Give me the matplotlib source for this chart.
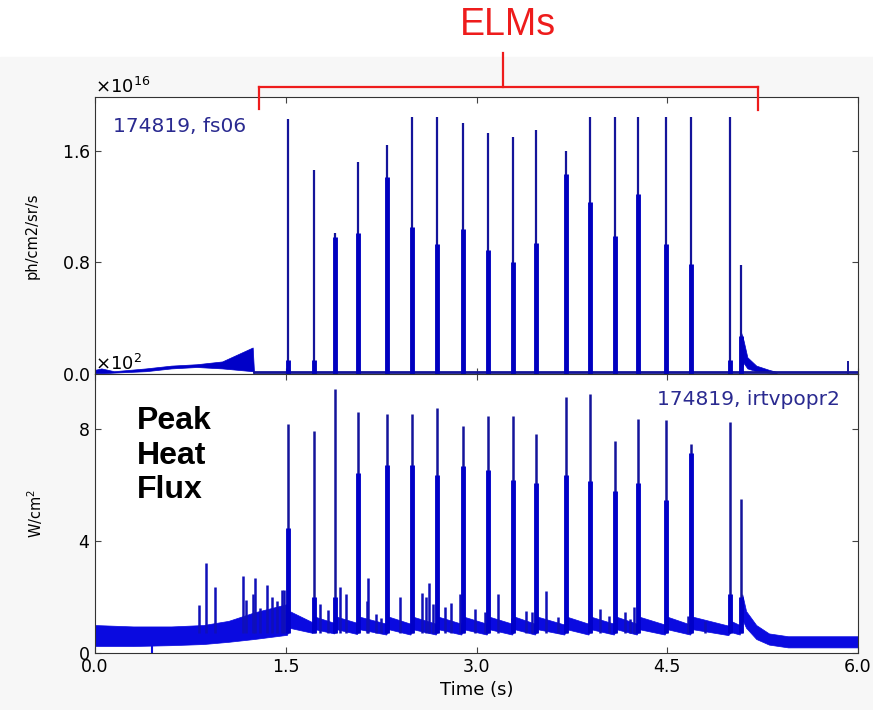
import matplotlib.pyplot as plt
from matplotlib.lines import Line2D
from matplotlib.patches import Rectangle

# ELM crash times (s) and the peak / shoulder heights in both channels
elm_t = [1.52, 1.72, 1.89, 2.07, 2.30, 2.49, 2.69, 2.89, 3.09, 3.29,
         3.47, 3.70, 3.89, 4.09, 4.27, 4.49, 4.69, 4.99, 5.08]
fs_peak = [1.83, 1.46, 1.01, 1.52, 1.64, 1.84, 1.84, 1.80, 1.73, 1.70,
           1.75, 1.60, 1.84, 1.84, 1.84, 1.84, 1.84, 1.84, 0.78]
fs_shoulder = [0.10, 0.10, 0.98, 1.01, 1.41, 1.05, 0.93, 1.04, 0.89, 0.80,
               0.94, 1.43, 1.23, 0.99, 1.29, 0.93, 0.79, 0.10, 0.27]
ir_peak = [8.18, 7.94, 9.44, 8.62, 8.54, 8.54, 8.78, 8.12, 8.48, 8.48,
           7.82, 9.14, 9.26, 7.58, 8.38, 8.34, 7.46, 8.26, 5.50]
ir_shoulder = [4.47, 2.00, 2.00, 6.44, 6.74, 6.74, 6.38, 6.68, 6.56, 6.20,
               6.08, 6.38, 6.14, 5.78, 6.08, 5.48, 7.16, 2.10, 2.00]

# filterscope baseline (x1e16): L-mode ramp before the first ELM
fs_pre_t = [0.00, 0.05, 0.15, 0.40, 0.60, 0.80, 1.00, 1.24, 1.25]
fs_pre_lo = [0.005, 0.005, 0.01, 0.02, 0.04, 0.05, 0.04, 0.02, 0.005]
fs_pre_hi = [0.03, 0.04, 0.02, 0.04, 0.06, 0.07, 0.09, 0.19, 0.02]
# decay after the last ELM
fs_tail_t = [5.08, 5.10, 5.13, 5.20, 5.30, 5.36]
fs_tail_lo = [0.01, 0.08, 0.04, 0.02, 0.01, 0.005]
fs_tail_hi = [0.30, 0.24, 0.12, 0.06, 0.03, 0.015]
fs_small_t = [5.92]
fs_small_h = [0.09]

# IR peak heat flux noise band (x1e2 W/cm2)
ir_band_t = [0.00, 0.30, 0.60, 0.85, 1.05, 1.25, 1.51, 1.53, 1.71, 1.73,
             1.88, 1.90, 2.06, 2.08, 2.29, 2.31, 2.48, 2.50, 2.68, 2.70,
             2.88, 2.90, 3.08, 3.10, 3.28, 3.30, 3.46, 3.48, 3.69, 3.71,
             3.88, 3.90, 4.08, 4.10, 4.26, 4.28, 4.48, 4.50, 4.68, 4.70,
             4.98, 5.00, 5.07, 5.09, 5.12, 5.20, 5.30, 5.45, 6.00]
ir_band_lo = [0.25, 0.25, 0.28, 0.32, 0.40, 0.50, 0.65, 0.90, 0.72, 0.85,
              0.70, 0.85, 0.68, 0.85, 0.66, 0.85, 0.66, 0.85, 0.66, 0.85,
              0.66, 0.85, 0.66, 0.85, 0.66, 0.85, 0.66, 0.85, 0.66, 0.85,
              0.66, 0.85, 0.66, 0.85, 0.66, 0.85, 0.66, 0.85, 0.66, 0.85,
              0.64, 0.75, 0.66, 1.20, 0.90, 0.50, 0.30, 0.20, 0.20]
ir_band_hi = [1.00, 0.95, 0.95, 1.00, 1.15, 1.45, 1.75, 1.50, 1.10, 1.30,
              1.08, 1.30, 1.08, 1.30, 1.05, 1.30, 1.05, 1.30, 1.05, 1.30,
              1.05, 1.30, 1.05, 1.30, 1.05, 1.30, 1.05, 1.30, 1.02, 1.30,
              1.05, 1.30, 1.05, 1.30, 1.05, 1.30, 1.02, 1.30, 1.02, 1.30,
              0.98, 1.15, 1.00, 2.10, 1.50, 1.00, 0.70, 0.60, 0.60]

# smaller inter-ELM bursts in the IR signal
ir_small_t = [0.82, 0.87, 0.94, 1.16, 1.19, 1.24, 1.26, 1.30, 1.35, 1.39,
              1.43, 1.47, 1.49, 1.77, 1.83, 1.93, 1.97, 2.14, 2.15, 2.21,
              2.25, 2.40, 2.57, 2.60, 2.63, 2.66, 2.75, 2.80, 2.87, 2.99,
              3.07, 3.17, 3.28, 3.39, 3.44, 3.55, 3.64, 3.97, 4.04, 4.17,
              4.21, 4.24, 4.66, 4.80]
ir_small_h = [1.70, 3.22, 2.35, 2.74, 1.90, 2.12, 2.70, 1.60, 2.45, 2.00,
              1.87, 2.24, 2.27, 1.75, 1.55, 2.37, 2.10, 1.87, 2.70, 1.40,
              1.26, 2.00, 2.16, 2.00, 2.49, 1.75, 1.63, 1.80, 2.12, 1.58,
              1.48, 2.10, 1.26, 1.50, 1.45, 2.23, 1.30, 1.58, 1.34, 1.45,
              1.22, 1.66, 1.34, 1.15]

top_color = "#14149a"
bot_color = "#0a0ae0"

W, H = 873, 710
fig = plt.figure(figsize=(W / 100, H / 100), dpi=100, facecolor="white")
fig.patches.append(Rectangle((0, 0), 1, 1 - 57 / H, transform=fig.transFigure,
                             color="#f7f7f7", zorder=-10))

left, right = 95 / W, 858 / W
y_top, y_mid, y_bot = 1 - 97 / H, 1 - 374 / H, 1 - 653 / H
ax1 = fig.add_axes([left, y_mid, right - left, y_top - y_mid])
ax2 = fig.add_axes([left, y_bot, right - left, y_mid - y_bot], sharex=ax1)

# top: filterscope
s = 1e16
ax1.fill_between(fs_pre_t, [v * s for v in fs_pre_lo], [v * s for v in fs_pre_hi],
                 color="#0000c8", lw=0.5)
ax1.fill_between(fs_tail_t, [v * s for v in fs_tail_lo], [v * s for v in fs_tail_hi],
                 color="#0000c8", lw=0.5)
ax1.plot([1.25, 6.0], [0.012 * s, 0.012 * s], color=top_color, lw=2)
ax1.vlines(elm_t, 0, [v * s for v in fs_peak], color=top_color, lw=1.6)
ax1.vlines(elm_t, 0, [v * s for v in fs_shoulder], color="#0000c0", lw=3.5)
ax1.vlines(fs_small_t, 0, [v * s for v in fs_small_h], color=top_color, lw=1.4)
ax1.set_ylim(0, 1.985e16)
ax1.set_yticks([0, 0.8e16, 1.6e16])
ax1.set_ylabel("ph/cm2/sr/s", fontsize=10.5)
ax1.yaxis.set_label_coords(-0.072, 0.5)
ax1.text(0.024, 0.895, "174819, fs06", transform=ax1.transAxes, fontsize=14.5,
         color="#2a2a90", va="center")

# bottom: IR peak heat flux
s2 = 1e2
ax2.fill_between(ir_band_t, [v * s2 for v in ir_band_lo], [v * s2 for v in ir_band_hi],
                 color=bot_color, lw=0.5)
ax2.vlines([0.45], 0, 0.4 * s2, color=bot_color, lw=1.5)
ax2.vlines(ir_small_t, 0.7 * s2, [v * s2 for v in ir_small_h], color="#1010b8", lw=1.8)
ax2.vlines(elm_t, 0.7 * s2, [v * s2 for v in ir_peak], color=top_color, lw=1.8)
ax2.vlines(elm_t, 0.7 * s2, [v * s2 for v in ir_shoulder], color="#0000c8", lw=3.5)
ax2.set_ylim(0, 9.98e2)
ax2.set_yticks([0, 400, 800])
ax2.set_ylabel("W/cm$^2$", fontsize=10.5)
ax2.yaxis.set_label_coords(-0.065, 0.5)
ax2.text(0.976, 0.91, "174819, irtvpopr2", transform=ax2.transAxes, fontsize=14.5,
         color="#2a2a90", va="center", ha="right")

ax2.set_xlim(0, 6)
ax2.set_xticks([0, 1.5, 3.0, 4.5, 6.0])
ax2.set_xlabel("Time (s)", fontsize=13)

for ax in (ax1, ax2):
    ax.set_facecolor("white")
    ax.ticklabel_format(axis="y", style="sci", scilimits=(0, 0), useMathText=True)
    ax.yaxis.get_offset_text().set_fontsize(13)
    ax.tick_params(direction="in", top=True, right=True, length=4, labelsize=12.5,
                   color="#444444")
    for sp in ax.spines.values():
        sp.set_color("#333333")
plt.setp(ax1.get_xticklabels(), visible=False)
ax2.set_xticklabels(["0.0", "1.5", "3.0", "4.5", "6.0"])

fig.text(137 / W, 1 - 406 / H, "Peak\nHeat\nFlux", fontsize=23, fontweight="bold",
         family="Liberation Sans", va="top", ha="left", linespacing=1.2)

# ELM bracket
red = "#ee1c1c"
def fx(px):
    return px / W
def fy(py):
    return 1 - py / H
for xs, ys in [([259, 758], [87, 87]), ([259, 259], [87, 109]),
               ([758, 758], [87, 110]), ([503, 503], [53, 87])]:
    fig.add_artist(Line2D([fx(x) for x in xs], [fy(y) for y in ys],
                          transform=fig.transFigure, color=red, lw=1.6))
fig.text(fx(508), fy(25), "ELMs", fontsize=27, color=red, family="Liberation Sans",
         ha="center", va="center")

fig.savefig("out.png", dpi=100, facecolor=fig.get_facecolor())
